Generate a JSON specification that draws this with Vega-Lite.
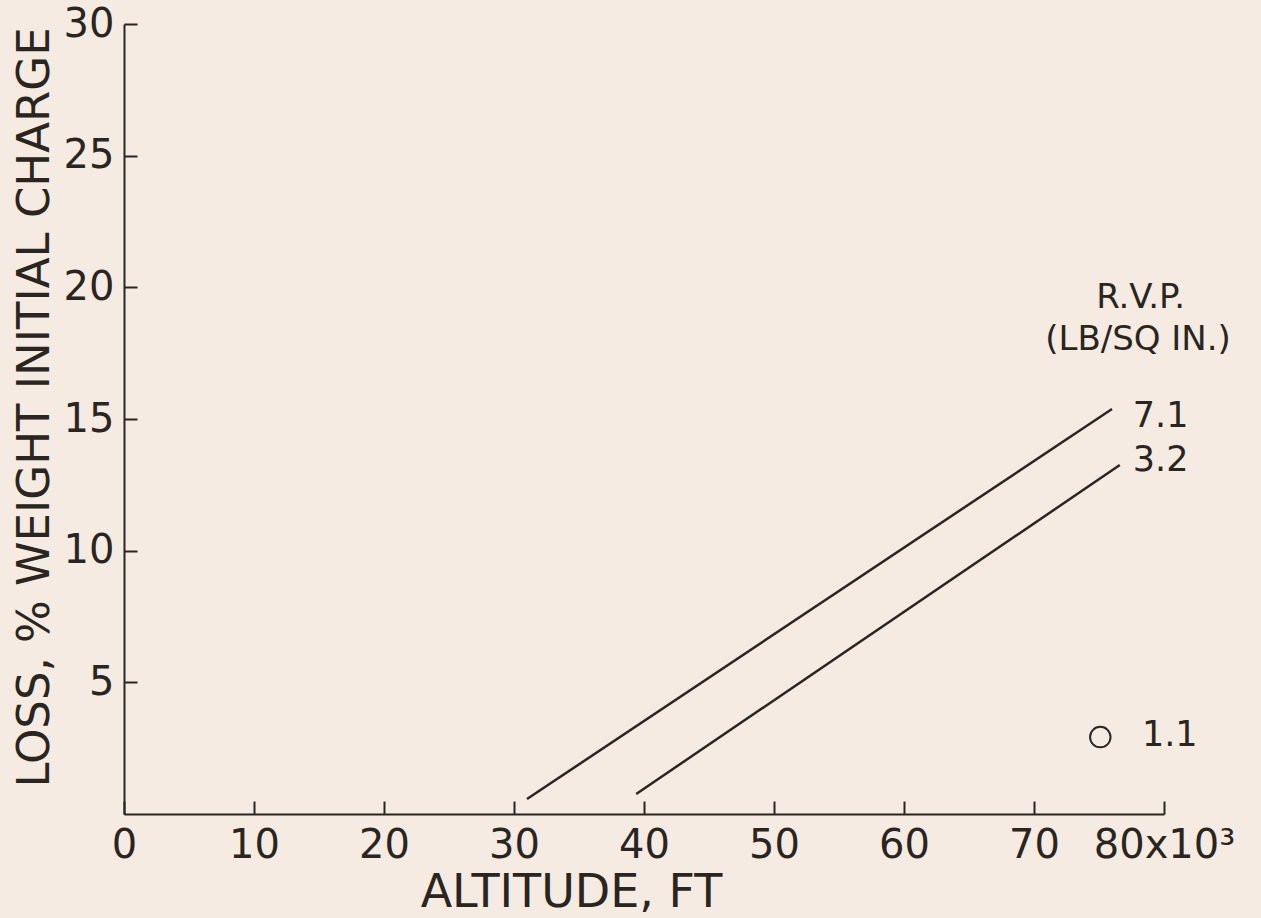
{
  "$schema": "https://vega.github.io/schema/vega-lite/v6.json",
  "width": 1040,
  "height": 790,
  "autosize": {"type": "none"},
  "padding": {"left": 124, "top": 24, "right": 97, "bottom": 104},
  "background": "#f5ebe3",
  "config": {
    "view": {"stroke": null},
    "font": "DejaVu Sans",
    "axis": {"grid": false, "domainColor": "#2a2520", "tickColor": "#2a2520", "labelColor": "#2a2520", "titleColor": "#2a2520", "domainWidth": 2, "tickWidth": 2, "labelFont": "DejaVu Sans", "titleFont": "DejaVu Sans", "labelFontWeight": "normal", "titleFontWeight": "normal", "labelOverlap": false, "labelFlush": false}
  },
  "datasets": {
    "curves": [
      {"rvp": "7.1", "altitude": 31.0, "loss": 0.57},
      {"rvp": "7.1", "altitude": 76.0, "loss": 15.38},
      {"rvp": "3.2", "altitude": 39.4, "loss": 0.76},
      {"rvp": "3.2", "altitude": 76.6, "loss": 13.25}
    ],
    "points": [
      {"rvp": "1.1", "altitude": 75.1, "loss": 2.92}
    ],
    "labels": [
      {"text": "7.1", "altitude": 77.6, "loss": 15.1},
      {"text": "3.2", "altitude": 77.6, "loss": 13.45},
      {"text": "1.1", "altitude": 78.3, "loss": 3.0}
    ],
    "headers": [
      {"text": "R.V.P.", "altitude": 78.2, "loss": 19.6},
      {"text": "(LB/SQ IN.)", "altitude": 78.0, "loss": 18.0}
    ]
  },
  "layer": [
    {
      "data": {"name": "curves"},
      "mark": {"type": "line", "color": "#2a2520", "strokeWidth": 2.5},
      "encoding": {
        "x": {
          "field": "altitude", "type": "quantitative",
          "scale": {"domain": [0, 80], "nice": false, "zero": false},
          "axis": {
            "values": [0, 10, 20, 30, 40, 50, 60, 70, 80],
            "labelExpr": "datum.value == 80 ? '80x10³' : datum.label",
            "tickSize": -13, "labelPadding": 24, "labelFontSize": 40,
            "title": "ALTITUDE, FT", "titleFontSize": 46,
            "titleX": 447, "titleY": 92, "titleBaseline": "alphabetic", "titleAlign": "center"
          }
        },
        "y": {
          "field": "loss", "type": "quantitative",
          "scale": {"domain": [0, 30], "nice": false},
          "axis": {
            "values": [5, 10, 15, 20, 25, 30],
            "tickSize": -13, "labelPadding": 23, "labelFontSize": 40, "labelBaseline": "middle",
            "title": "LOSS, % WEIGHT INITIAL CHARGE", "titleFontSize": 45,
            "titleX": -90, "titleY": 383, "titleBaseline": "middle", "titleAngle": -90, "titleAlign": "center"
          }
        },
        "detail": {"field": "rvp", "type": "nominal"}
      }
    },
    {
      "data": {"name": "points"},
      "mark": {"type": "point", "shape": "circle", "filled": false, "color": "#2a2520", "opacity": 1, "strokeWidth": 2, "size": 420},
      "encoding": {
        "x": {"field": "altitude", "type": "quantitative"},
        "y": {"field": "loss", "type": "quantitative"}
      }
    },
    {
      "data": {"name": "labels"},
      "mark": {"type": "text", "align": "left", "baseline": "middle", "fontSize": 35, "color": "#2a2520"},
      "encoding": {
        "x": {"field": "altitude", "type": "quantitative"},
        "y": {"field": "loss", "type": "quantitative"},
        "text": {"field": "text"}
      }
    },
    {
      "data": {"name": "headers"},
      "mark": {"type": "text", "align": "center", "baseline": "middle", "fontSize": 34, "color": "#2a2520"},
      "encoding": {
        "x": {"field": "altitude", "type": "quantitative"},
        "y": {"field": "loss", "type": "quantitative"},
        "text": {"field": "text"}
      }
    }
  ]
}
